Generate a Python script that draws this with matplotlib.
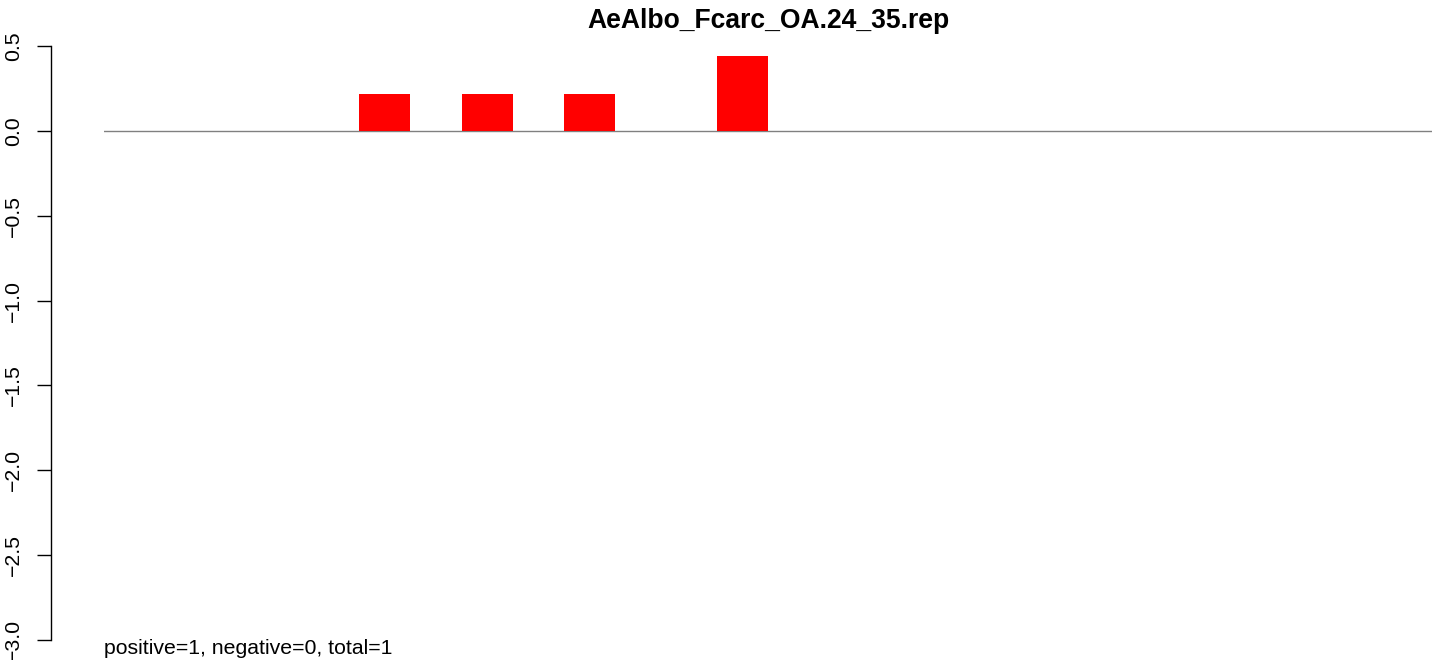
import matplotlib
matplotlib.use("Agg")
import matplotlib.pyplot as plt
import numpy as np

plt.rcParams['font.family'] = ['Liberation Sans', 'DejaVu Sans']

title = "AeAlbo_Fcarc_OA.24_35.rep"
footer = "positive=1, negative=0, total=1"
values = [0, 0, 0, 0, 0, 0.22, 0, 0.22, 0, 0.22, 0, 0, 0.44,
          0, 0, 0, 0, 0, 0, 0, 0, 0, 0, 0, 0, 0]
yticks = [0.5, 0.0, -0.5, -1.0, -1.5, -2.0, -2.5, -3.0]

W, H = 1444, 660
fig = plt.figure(figsize=(W / 100, H / 100), dpi=100)
ax = fig.add_axes([104 / W, (H - 640) / H, (1432 - 104) / W, (640 - 46) / H])

x = np.arange(len(values))
ax.bar(x, values, width=1.0, align='edge', color='#ff0000', linewidth=0)
ax.axhline(0, color='#808080', lw=1.0, zorder=0)

ax.set_xlim(0, len(values))
ax.set_ylim(-3, 0.5)
for s in ['top', 'right', 'bottom']:
    ax.spines[s].set_visible(False)
ax.spines['left'].set_position(('outward', 53 * 72 / 100))
ax.spines['left'].set_bounds(-3, 0.5)
ax.spines['left'].set_linewidth(1.0)
ax.set_xticks([])
ax.set_yticks(yticks)
ax.set_yticklabels([f"{v:.1f}".replace('-', '\u2212') for v in yticks],
                   rotation=90, va='center', fontsize=15.3)
ax.tick_params(axis='y', length=10, width=1.0, pad=10)

fig.text((104 + 1432) / 2 / W, 1 - 21 / H, title, ha='center', va='center',
         fontsize=19.1, fontweight='bold')
fig.text(104 / W, (H - 654) / H, footer, ha='left', va='baseline', fontsize=15.3)

fig.savefig('out.png', dpi=100)
